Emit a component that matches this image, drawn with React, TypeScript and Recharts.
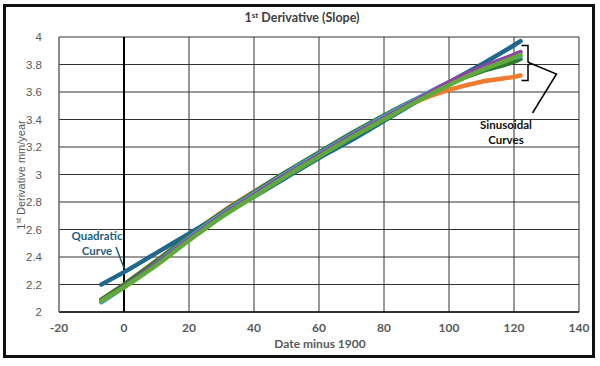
import { LineChart, Line, XAxis, YAxis, CartesianGrid, ReferenceLine } from 'recharts';

const YEARS = [-7, 0, 10, 20, 30, 40, 50, 60, 70, 80, 90, 100, 110, 120, 122];
const QUADRATIC = [2.2, 2.29, 2.43, 2.57, 2.71, 2.84, 2.98, 3.12, 3.25, 3.39, 3.53, 3.67, 3.8, 3.94, 3.97];
const SIN_DKGREEN = [2.09, 2.2, 2.37, 2.55, 2.72, 2.87, 3.02, 3.16, 3.3, 3.43, 3.55, 3.66, 3.75, 3.82, 3.84];
const SIN_BLUE = [2.07, 2.18, 2.355, 2.54, 2.71, 2.86, 3.01, 3.15, 3.29, 3.42, 3.55, 3.67, 3.76, 3.85, 3.86];
const SIN_PURPLE = [2.08, 2.185, 2.35, 2.53, 2.7, 2.85, 3.0, 3.14, 3.28, 3.41, 3.54, 3.67, 3.78, 3.87, 3.89];
const SIN_GREEN = [2.08, 2.18, 2.34, 2.52, 2.69, 2.84, 2.99, 3.13, 3.27, 3.4, 3.53, 3.65, 3.76, 3.85, 3.87];
const SIN_ORANGE = [2.09, 2.2, 2.375, 2.555, 2.725, 2.875, 3.015, 3.15, 3.28, 3.41, 3.53, 3.615, 3.675, 3.71, 3.72];

const X_TICKS = [-20, 0, 20, 40, 60, 80, 100, 120, 140];
const Y_TICKS = [2, 2.2, 2.4, 2.6, 2.8, 3, 3.2, 3.4, 3.6, 3.8, 4];

const data = YEARS.map((x, i) => ({
  x,
  quad: QUADRATIC[i],
  blue: SIN_BLUE[i],
  purple: SIN_PURPLE[i],
  green: SIN_GREEN[i],
  dkgreen: SIN_DKGREEN[i],
  orange: SIN_ORANGE[i],
}));

const NARROW = 'Lato, "Liberation Sans", Arial, sans-serif';
const ARIAL = '"Liberation Sans", Arial, sans-serif';

const series = [
  { key: 'orange', color: '#ef7b30' },
  { key: 'quad', color: '#1f688b' },
  { key: 'dkgreen', color: '#2d7a2f' },
  { key: 'blue', color: '#4a9fd6' },
  { key: 'purple', color: '#9440a6' },
  { key: 'green', color: '#5eab3b' },
];

export default function App() {
  return (
    <div style={{ position: 'relative', width: 600, height: 366, background: '#fff' }}>
      <style>{`body{margin:0}`}</style>
      <LineChart width={600} height={366} data={data} margin={{ top: 37, right: 21, bottom: 24, left: 0 }}>
        <CartesianGrid stroke="#333" strokeWidth={1} />
        <XAxis
          type="number"
          dataKey="x"
          domain={[-20, 140]}
          ticks={X_TICKS}
          height={30}
          axisLine={{ stroke: '#111', strokeWidth: 1.5 }}
          tickLine={false}
          tickMargin={5}
          tick={{ fill: '#595959', fontSize: 12, fontFamily: NARROW, fontWeight: 700 }}
        />
        <YAxis
          type="number"
          domain={[2, 4]}
          ticks={Y_TICKS}
          width={59}
          axisLine={{ stroke: '#7f7f7f' }}
          tickLine={false}
          tickMargin={11}
          tick={{ fill: '#595959', fontSize: 11.5, fontFamily: ARIAL }}
        />
        <ReferenceLine x={0} stroke="#000" strokeWidth={2} />
        {series.map(s => (
          <Line
            key={s.key}
            type="monotone"
            dataKey={s.key}
            stroke={s.color}
            strokeWidth={4.5}
            strokeLinecap="round"
            dot={false}
            isAnimationActive={false}
          />
        ))}
      </LineChart>
      <svg width={600} height={366} style={{ position: 'absolute', left: 0, top: 0, pointerEvents: 'none' }}>
        <rect x={4.5} y={5.5} width={589} height={351} fill="none" stroke="#111" strokeWidth={3} />
        <text x={302} y={22} textAnchor="middle" fontFamily={NARROW} fontWeight={700} fontSize={12.5} fill="#404040">
          1<tspan fontSize={8} dy={-4}>st</tspan>
          <tspan dy={4}> Derivative (Slope)</tspan>
        </text>
        <text x={320} y={348} textAnchor="middle" fontFamily={NARROW} fontWeight={700} fontSize={12} fill="#595959">
          Date minus 1900
        </text>
        <text
          transform="translate(25,175) rotate(-90)"
          textAnchor="middle"
          fontFamily={ARIAL}
          fontSize={11}
          fill="#595959"
        >
          1<tspan fontSize={7} dy={-4}>st</tspan>
          <tspan dy={4}> Derivative mm/year</tspan>
        </text>
        <g fontFamily={NARROW} fontWeight={700} fontSize={11.5} fill="#1f5f7d" textAnchor="middle">
          <text x={97} y={240}>Quadratic</text>
          <text x={97} y={255}>Curve</text>
        </g>
        <line x1={116} y1={247} x2={124} y2={268} stroke="#1f5f7d" strokeWidth={1.5} />
        <path
          d="M521.5 45.5 H528 V62 L531 63.5 L528 65 V80.5 H521.5"
          fill="none"
          stroke="#000"
          strokeWidth={1.5}
        />
        <polyline points="531,63.5 556.5,74 532.5,113" fill="none" stroke="#000" strokeWidth={1.5} />
        <g fontFamily={NARROW} fontWeight={700} fontSize={11.5} fill="#111" textAnchor="middle">
          <text x={506} y={129}>Sinusoidal</text>
          <text x={506} y={144}>Curves</text>
        </g>
      </svg>
    </div>
  );
}
